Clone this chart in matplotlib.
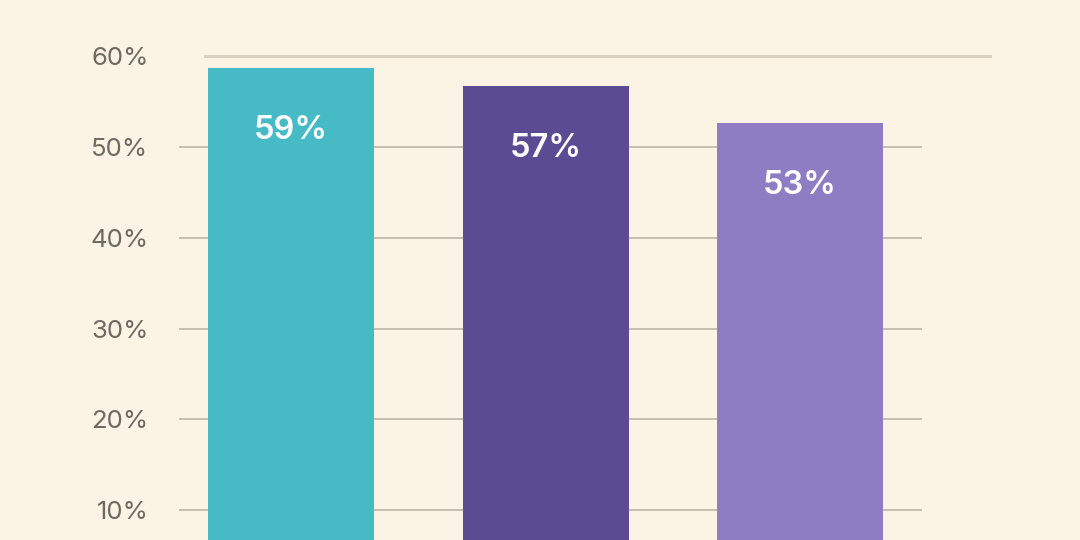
import matplotlib.pyplot as plt

# data
groups = ['A', 'B', 'C']
values = [58.7, 56.7, 52.7]
labels = ['59%', '57%', '53%']
colors = ['#46BBC5', '#5B4B93', '#8E7DC3']
yticks = [10, 20, 30, 40, 50, 60]

bg = '#FBF3E3'
plt.rcParams['font.family'] = ['Inter', 'DejaVu Sans']

fig = plt.figure(figsize=(10.8, 5.4), dpi=100, facecolor=bg)
ax = fig.add_axes([179 / 1080, 0, 743 / 1080, 1])
ax.set_facecolor(bg)

x = range(len(groups))
ax.set_xlim(-0.44, 2.479)
ax.set_ylim(6.7, 66.2)

# gridlines
for t in yticks[:-1]:
    ax.axhline(t, color='#BDB5A6', linewidth=1.2, zorder=0)
ax.axhline(60, xmin=0.035, xmax=1.0915, color='#D9D0C0', linewidth=2.2,
           zorder=0, clip_on=False)

bars = ax.bar(x, values, width=0.652, color=colors, zorder=2)

for xi, v, lab in zip(x, values, labels):
    ax.annotate(lab, (xi, v), xytext=(0, -45), textcoords='offset points',
                ha='center', va='center', color='white', fontsize=23.5,
                fontweight='semibold', zorder=3)

ax.set_yticks(yticks)
ax.set_yticklabels([f'{t}%' for t in yticks])
ax.set_xticks([])
ax.tick_params(axis='y', length=0, pad=22, labelsize=18.5, labelcolor='#6E6A62')
for s in ax.spines.values():
    s.set_visible(False)

fig.savefig('out.png', dpi=100, facecolor=bg)
